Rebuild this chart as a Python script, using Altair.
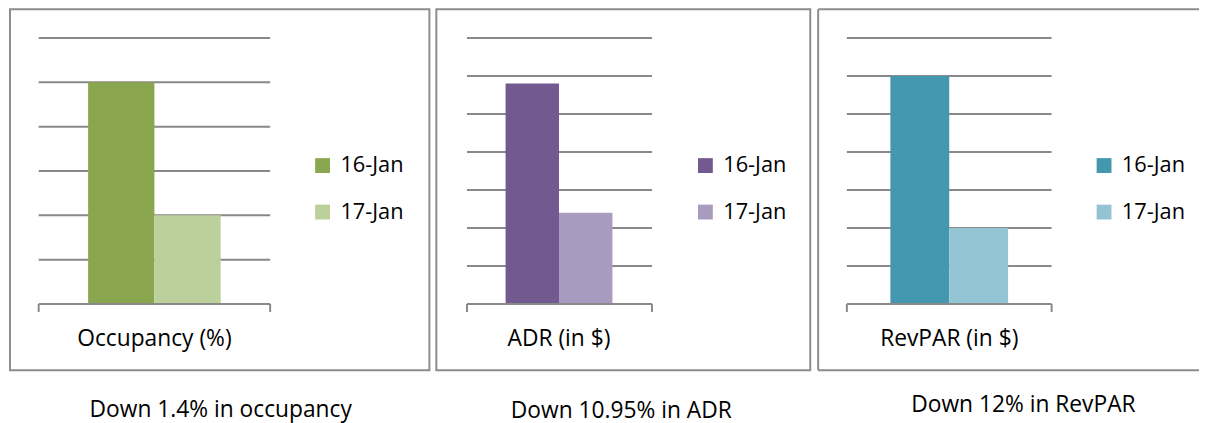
import altair as alt
import pandas as pd

# ---- data (grid units, no value labels in the source) ----
dates = ["16-Jan", "17-Jan"]
metrics = ["Occupancy (%)", "ADR (in $)", "RevPAR (in $)"]
occupancy_vals = [5.0, 2.0]
adr_vals = [5.8, 2.4]
revpar_vals = [6.0, 2.0]
grid_steps = [6, 7, 7]
captions = ["Down 1.4% in occupancy", "Down 10.95% in ADR", "Down 12% in RevPAR"]
palettes = [["#8AA64E", "#BBD09A"], ["#725990", "#A99AC0"], ["#4398B0", "#93C4D4"]]

FONT = "Open Sans"
GRID = "#898989"
BORDER = "#8c8c8c"
H = 365
Y0, Y1 = 298, 29


def panel(i, vals, width, plot_x, bar_x, legend_x, cap_dx, cap_off, full_border=True):
    metric = metrics[i]
    df = pd.DataFrame({"metric": [metric] * 2, "date": dates, "value": vals})
    grid = pd.DataFrame({"g": list(range(1, grid_steps[i] + 1))})
    base = pd.DataFrame({"g": [0]})
    one = pd.DataFrame({"k": [0]})
    yscale = alt.Scale(domain=[0, grid_steps[i]], range=[Y0, Y1], nice=False, zero=True)
    xscale = alt.Scale(domain=[metric], range=list(bar_x), paddingInner=0, paddingOuter=0)

    grid_layer = alt.Chart(grid).mark_rule(color=GRID, strokeWidth=2).encode(
        y=alt.Y("g:Q", scale=yscale, axis=None),
        x=alt.value(plot_x[0]), x2=alt.value(plot_x[1]))
    bars = alt.Chart(df).mark_bar().encode(
        x=alt.X("metric:N", scale=xscale, axis=None),
        xOffset=alt.XOffset("date:N", scale=alt.Scale(domain=dates, paddingInner=0, paddingOuter=0)),
        y=alt.Y("value:Q", scale=yscale, axis=None),
        color=alt.Color("date:N", title=None,
                        scale=alt.Scale(domain=dates, range=palettes[i]),
                        legend=alt.Legend(orient="none", legendX=legend_x, legendY=147,
                                          labelFont=FONT, labelFontSize=22, labelColor="black",
                                          symbolType="square", symbolSize=225, symbolStrokeWidth=0,
                                          symbolOpacity=1, labelOffset=7, rowPadding=25,
                                          padding=0, offset=0)))
    base_layer = alt.Chart(base).mark_rule(color=GRID, strokeWidth=2).encode(
        y=alt.Y("g:Q", scale=yscale, axis=None),
        x=alt.value(plot_x[0]), x2=alt.value(plot_x[1]))
    ticks = [alt.Chart(one).mark_rule(color=GRID, strokeWidth=2).encode(
        x=alt.value(px), y=alt.value(Y0), y2=alt.value(Y0 + 8)) for px in plot_x]
    label = alt.Chart(pd.DataFrame({"metric": [metric]})).mark_text(
        font=FONT, fontSize=23, color="black", baseline="middle").encode(
        x=alt.X("metric:N", scale=xscale, axis=None), y=alt.value(333), text="metric:N")
    layers = [grid_layer, bars, base_layer, label] + ticks
    if not full_border:
        layers += [
            alt.Chart(one).mark_rule(color=BORDER, strokeWidth=2).encode(
                x=alt.value(0), x2=alt.value(width + 4), y=alt.value(0)),
            alt.Chart(one).mark_rule(color=BORDER, strokeWidth=2).encode(
                x=alt.value(0), x2=alt.value(width + 4), y=alt.value(H)),
            alt.Chart(one).mark_rule(color=BORDER, strokeWidth=2).encode(
                x=alt.value(0), y=alt.value(0), y2=alt.value(H)),
        ]
    ch = alt.layer(*layers).properties(
        width=width, height=H,
        title=alt.TitleParams(captions[i], orient="bottom", anchor="middle", fontSize=23,
                              font=FONT, fontWeight="normal", color="black",
                              offset=cap_off, dx=cap_dx, baseline="alphabetic"))
    if not full_border:
        ch = ch.properties(view=alt.ViewBackground(stroke="transparent"))
    return ch


p1 = panel(0, occupancy_vals, 424, (29, 263), (79, 213), 305, 1, 47)
p2 = panel(1, adr_vals, 378, (31, 218), (70, 178), 261, -2, 48)
p3 = panel(2, revpar_vals, 381, (29, 236), (73, 192), 278, 17, 41, full_border=False)

chart = alt.hconcat(p1, p2, p3, spacing=5).resolve_scale(
    color="independent", y="independent", x="independent", xOffset="independent"
).resolve_legend(color="independent").properties(
    padding={"left": 1, "top": -3, "right": 0, "bottom": 0}, background="white"
).configure_view(stroke=BORDER, strokeWidth=2)

chart.save("out.html", embed_options={"renderer": "svg", "actions": False})
